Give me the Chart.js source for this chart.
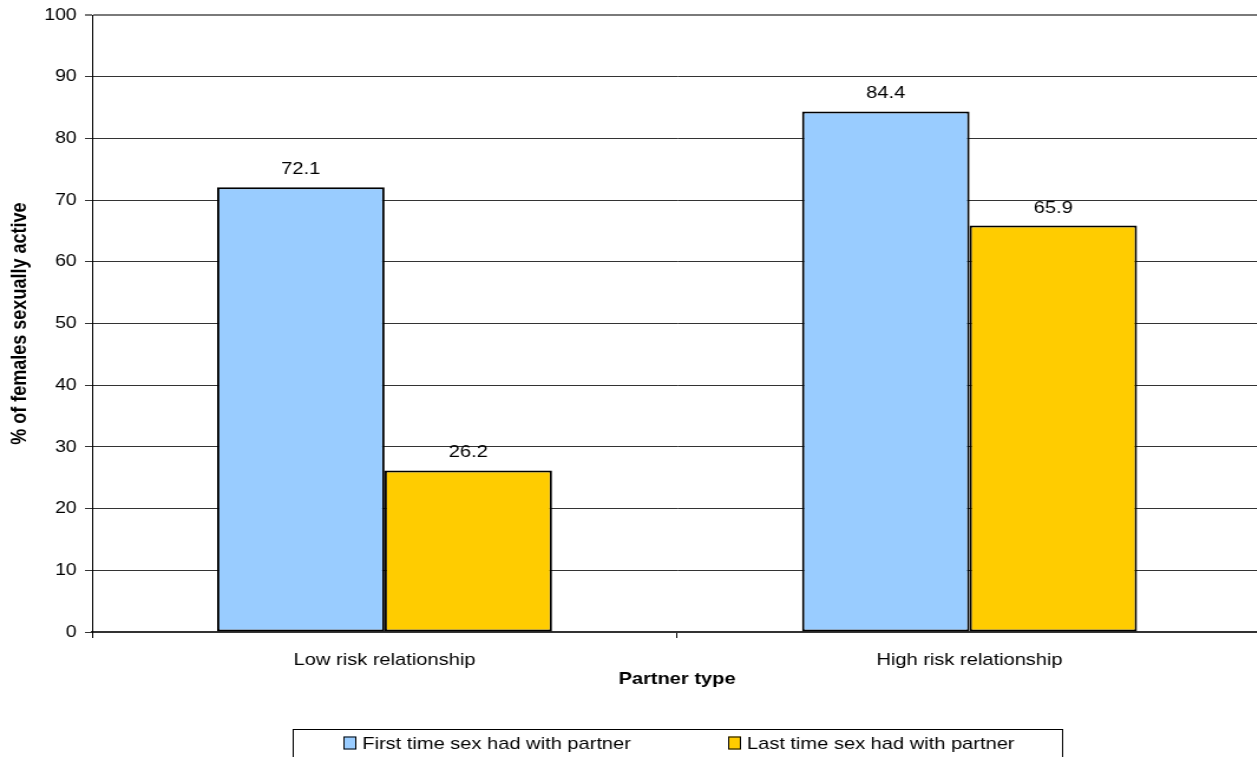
<!DOCTYPE html>
<html>
<head>
<meta charset="utf-8">
<title>Partner type</title>
<script src="https://cdn.jsdelivr.net/npm/chart.js@4.4.1/dist/chart.umd.min.js"></script>
<style>
  html, body { margin: 0; padding: 0; background: #ffffff; overflow: hidden; width: 1257px; height: 757px; }
  /* the figure is laid out narrower and widened horizontally, like a stretched spreadsheet chart */
  #wrap { position: absolute; left: 0; top: 0; width: 1080px; height: 757px; transform: scaleX(1.18); transform-origin: 0 0; }
</style>
</head>
<body>
<div id="wrap"><canvas id="chart"></canvas></div>
<script>
// Data
const categories = ['Low risk relationship', 'High risk relationship'];
const seriesNames = ['First time sex had with partner', 'Last time sex had with partner'];
const firstTimeValues = [72.1, 84.4];
const lastTimeValues = [26.2, 65.9];
const yTickValues = [0, 10, 20, 30, 40, 50, 60, 70, 80, 90, 100];

const FONT = "'Liberation Sans', Arial, Helvetica, sans-serif";

// Value printed above each bar
const valueLabels = {
  id: 'valueLabels',
  afterDatasetsDraw(chart) {
    const { ctx } = chart;
    ctx.save();
    ctx.font = '17px ' + FONT;
    ctx.fillStyle = '#000';
    ctx.textAlign = 'center';
    ctx.textBaseline = 'alphabetic';
    chart.data.datasets.forEach((ds, i) => {
      chart.getDatasetMeta(i).data.forEach((bar, j) => {
        ctx.fillText(ds.data[j].toFixed(1), bar.x, bar.y - 13);
      });
    });
    ctx.restore();
  }
};

// Boxed legend below the axis title, centred under the plot
const boxedLegend = {
  id: 'boxedLegend',
  afterDraw(chart, args, opts) {
    const { ctx, chartArea } = chart;
    const cx = (chartArea.left + chartArea.right) / 2;
    const left = Math.round(cx - opts.width / 2);
    const top = opts.top;
    ctx.save();
    ctx.strokeStyle = '#000';
    ctx.lineWidth = 1;
    ctx.strokeRect(left + 0.5, top + 0.5, opts.width, opts.height);
    const sets = chart.data.datasets;
    const colW = opts.width / sets.length;
    ctx.font = '17px ' + FONT;
    ctx.textBaseline = 'middle';
    ctx.textAlign = 'left';
    sets.forEach((ds, i) => {
      const x = Math.round(left + colW * i + opts.inset);
      const y = top + opts.rowY;
      ctx.fillStyle = ds.backgroundColor;
      ctx.fillRect(x, y - 6.5, 11, 13);
      ctx.strokeStyle = '#000';
      ctx.strokeRect(x + 0.5, y - 6, 10, 12);
      ctx.fillStyle = '#000';
      ctx.fillText(ds.label, x + 16, y + 1);
    });
    ctx.restore();
  }
};

new Chart(document.getElementById('chart'), {
  type: 'bar',
  data: {
    labels: categories,
    datasets: [
      {
        label: seriesNames[0],
        data: firstTimeValues,
        backgroundColor: '#99CCFF',
        borderColor: '#000000',
        borderWidth: 2,
        borderSkipped: false
      },
      {
        label: seriesNames[1],
        data: lastTimeValues,
        backgroundColor: '#FFCC00',
        borderColor: '#000000',
        borderWidth: 2,
        borderSkipped: false
      }
    ]
  },
  options: {
    responsive: true,
    maintainAspectRatio: false,
    animation: false,
    devicePixelRatio: 1,
    layout: { padding: { left: 0, right: 10.5, top: 14, bottom: 0 } },
    datasets: {
      bar: { categoryPercentage: 0.5726, barPercentage: 1.0 }
    },
    plugins: {
      legend: { display: false },
      tooltip: { enabled: false },
      boxedLegend: { width: 652, height: 40, top: 729, inset: 43, rowY: 14 }
    },
    scales: {
      x: {
        afterFit(scale) { scale.height = 125; },
        grid: {
          display: true,
          drawOnChartArea: false,
          drawTicks: true,
          tickLength: 6,
          color: '#000000',
          lineWidth: 1
        },
        border: { display: true, color: '#333333', width: 2 },
        ticks: {
          color: '#000',
          padding: 12,
          font: { family: FONT, size: 17 }
        },
        title: {
          display: true,
          text: 'Partner type',
          color: '#000',
          font: { family: FONT, size: 17, weight: 'bold' },
          padding: { top: 0, bottom: 67 }
        }
      },
      y: {
        min: 0,
        max: 100,
        afterFit(scale) { scale.width = 78; },
        afterBuildTicks(scale) { scale.ticks = yTickValues.map(v => ({ value: v })); },
        grid: {
          drawTicks: true,
          tickLength: 6,
          color: (c) => (c.tick && c.tick.value === 100 ? '#7a7a7a' : '#333333'),
          lineWidth: (c) => (c.tick && c.tick.value === 100 ? 2 : 1)
        },
        border: { display: true, color: '#000000', width: 1 },
        ticks: {
          color: '#000',
          padding: 7,
          font: { family: FONT, size: 16.5, lineHeight: 1 }
        },
        title: {
          display: true,
          text: '% of females sexually active',
          color: '#000',
          font: { family: FONT, size: 18, weight: 'bold' },
          padding: { top: 6, bottom: 0 }
        }
      }
    }
  },
  plugins: [valueLabels, boxedLegend]
});
</script>
</body>
</html>
